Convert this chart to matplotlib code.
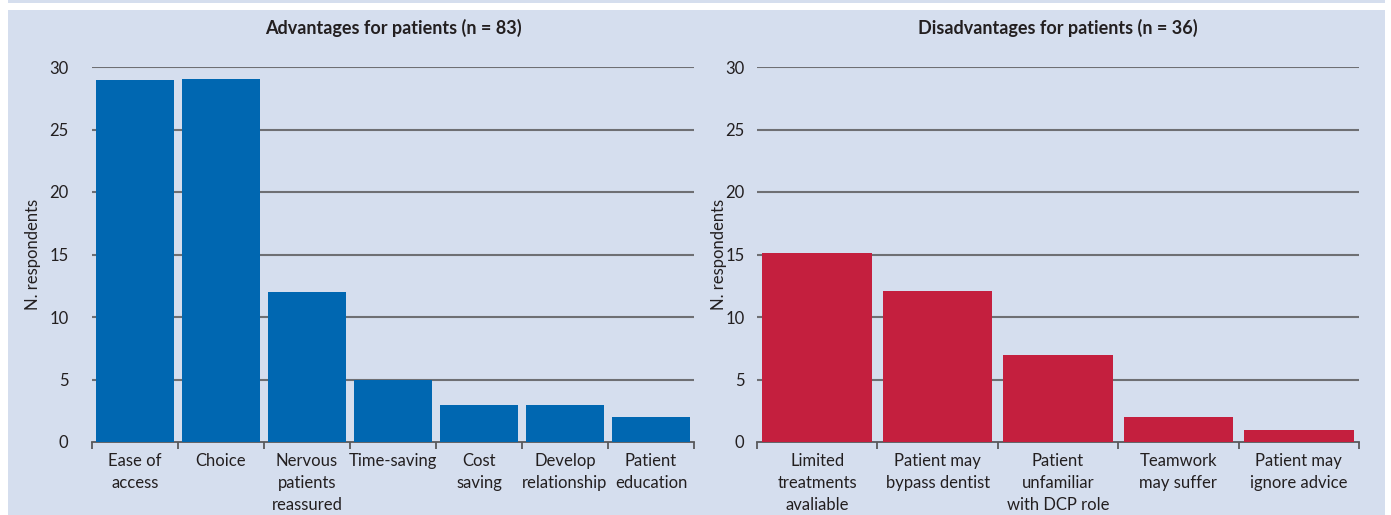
import matplotlib.pyplot as plt
from matplotlib.patches import Rectangle

adv_labels = ['Ease of\naccess', 'Choice', 'Nervous\npatients\nreassured', 'Time-saving',
              'Cost\nsaving', 'Develop\nrelationship', 'Patient\neducation']
adv_values = [29, 29.05, 12, 5, 3, 3, 2]

dis_labels = ['Limited\ntreatments\navaliable', 'Patient may\nbypass dentist',
              'Patient\nunfamiliar\nwith DCP role', 'Teamwork\nmay suffer', 'Patient may\nignore advice']
dis_values = [15.1, 12.1, 7, 2, 1]

bg = '#d5deee'
plt.rcParams['font.family'] = ['Lato', 'DejaVu Sans']
plt.rcParams['font.size'] = 12

fig = plt.figure(figsize=(13.91, 5.15), dpi=100)
fig.patch.set_facecolor('white')
# panel background and top strip
fig.patches.append(Rectangle((8 / 1391, 0), 1377 / 1391, 505 / 515, transform=fig.transFigure,
                             facecolor=bg, edgecolor='none', zorder=-10))
fig.patches.append(Rectangle((8 / 1391, 512 / 515), 1377 / 1391, 3 / 515, transform=fig.transFigure,
                             facecolor=bg, edgecolor='none', zorder=-10))

W, H = 1391, 515
ax1 = fig.add_axes([92 / W, (H - 442) / H, 602 / W, 375 / H])
ax2 = fig.add_axes([757 / W, (H - 442) / H, 602 / W, 375 / H])


def draw(ax, labels, values, color, title, ypad, lx):
    n = len(values)
    x = range(n)
    ax.set_facecolor('none')
    ax.bar(x, values, width=0.91, color=color, zorder=3)
    ax.set_xlim(-0.5, n - 0.5)
    ax.set_ylim(0, 30)
    ax.set_yticks([0, 5, 10, 15, 20, 25, 30])
    for y in [5, 10, 15, 20, 25, 30]:
        ax.axhline(y, color='#6e6f73', lw=1.5, zorder=1)
    for s in ['top', 'right', 'left']:
        ax.spines[s].set_visible(False)
    ax.spines['bottom'].set_color('#58595b')
    ax.spines['bottom'].set_linewidth(1.3)
    ax.set_xticks([i - 0.5 for i in range(n + 1)], minor=False)
    ax.set_xticklabels([])
    ax.tick_params(axis='x', length=5, color='#58595b', width=1.3)
    ax.set_xticks(list(x), minor=True)
    ax.set_xticklabels(labels, minor=True, color='#231f20', linespacing=1.45)
    ax.tick_params(axis='x', which='minor', length=0, pad=8)
    ax.tick_params(axis='y', length=0, pad=ypad, labelcolor='#231f20')
    ax.set_ylabel('N. respondents', color='#231f20', va='center')
    ax.yaxis.set_label_coords(lx, 0.5)
    ax.set_title(title, fontweight='bold', fontsize=13, color='#231f20', pad=24)


draw(ax1, adv_labels, adv_values, '#0067b1', 'Advantages for patients (n = 83)', 17, (33 - 92) / 602)
draw(ax2, dis_labels, dis_values, '#c41f3e', 'Disadvantages for patients (n = 36)', 9, (719 - 757) / 602)

fig.savefig('out.png', dpi=100, facecolor='white')
